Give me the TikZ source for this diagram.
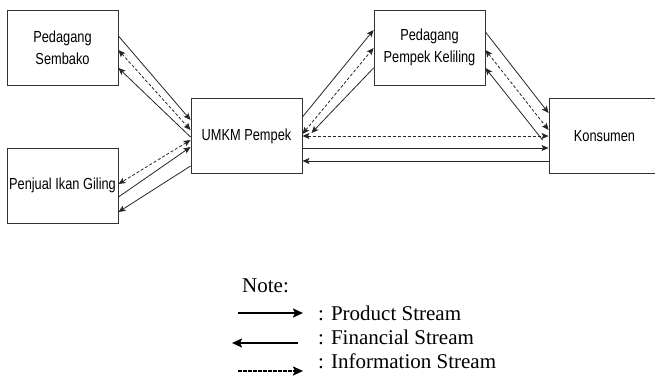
\documentclass[tikz,border=0pt]{standalone}
\usepackage{fontspec}
\setmainfont{Liberation Serif}
\newfontfamily\boxfont[FakeStretch=0.8]{Liberation Sans}
\usetikzlibrary{shapes,arrows.meta}
\usetikzlibrary{positioning}

\tikzset{
  actor/.style={rectangle,draw=black!80,line width=0.9pt,minimum width=111pt,minimum height=75pt,inner sep=0pt,align=center,font=\boxfont\fontsize{16}{22}\selectfont},
  flow/.style={-{Stealth[length=7pt,width=6pt,inset=1.5pt]},line width=0.8pt,black!85},
  info/.style={{Stealth[length=7pt,width=6pt,inset=1.5pt]}-{Stealth[length=7pt,width=6pt,inset=1.5pt]},line width=0.8pt,dash pattern=on 3pt off 2pt,black!85},
  keyflow/.style={-{Stealth[length=10pt,width=9pt,inset=2pt]},line width=1.8pt},
  legend/.style={anchor=west,inner sep=0pt,font=\fontsize{21}{24}\selectfont}
}

\begin{document}
\begin{tikzpicture}[x=1pt,y=1pt]
        \useasboundingbox (0,0) rectangle (655,-376);

        \node at (62.5,-47.5) [actor] (sembako) {Pedagang\\Sembako};
        \node at (62.5,-185.5) [actor] (ikan) {Penjual Ikan Giling};
        \node at (246.5,-136) [actor] (umkm) {UMKM Pempek};
        \node at (429.5,-47.5) [actor] (keliling) {Pedagang\\Pempek Keliling};
        \node at (604.5,-136) [actor] (konsumen) {Konsumen};

        % sembako - umkm
        \draw[flow] ([yshift=11.5pt]sembako.east) -- ([yshift=16pt]umkm.west);
        \draw[info] ([yshift=-2.5pt]sembako.east) -- ([yshift=6pt]umkm.west);
        \draw[flow] ([yshift=-1pt]umkm.west) -- ([yshift=-20.5pt]sembako.east);

        % ikan - umkm
        \draw[info] ([yshift=-4pt]umkm.west) -- ([yshift=1.5pt]ikan.east);
        \draw[flow] ([yshift=-11.5pt]ikan.east) -- ([yshift=-11pt]umkm.west);
        \draw[flow] ([yshift=-30pt]umkm.west) -- ([yshift=-26.5pt]ikan.east);

        % umkm - keliling
        \draw[flow] ([yshift=19pt]umkm.east) -- ([yshift=17.5pt]keliling.west);
        \draw[info] ([yshift=2pt]umkm.east) -- ([yshift=-0.5pt]keliling.west);
        \draw[flow] ([yshift=-20.5pt]keliling.west) -- ([xshift=9pt,yshift=3pt]umkm.east);

        % keliling - konsumen
        \draw[flow] ([yshift=15.5pt]keliling.east) -- ([yshift=23pt]konsumen.west);
        \draw[info] ([yshift=-2.5pt]keliling.east) -- ([yshift=6pt]konsumen.west);
        \draw[flow] ([xshift=-6pt,yshift=-4pt]konsumen.west) -- ([yshift=-20.5pt]keliling.east);

        % umkm - konsumen
        \draw[info] (umkm.east) -- (konsumen.west);
        \draw[flow] ([yshift=-12pt]umkm.east) -- ([yshift=-12pt]konsumen.west);
        \draw[flow] ([yshift=-25pt]konsumen.west) -- ([yshift=-25pt]umkm.east);

        % legend
        \node at (242,-286) [legend] (note) {Note:};
        \node at (318,-313) [legend] (prodtxt) {: Product Stream};
        \node at (318,-337) [legend] (fintxt) {: Financial Stream};
        \node at (318,-361) [legend] (infotxt) {: Information Stream};

        \coordinate (prodA) at (238,-313);
        \coordinate [left=15pt of prodtxt.west] (prodB);
        \coordinate (finA) at (232,-343);
        \coordinate (finB) at (298,-343);
        \coordinate (infoA) at (238,-371);
        \coordinate (infoB) at (303,-371);

        \draw[keyflow] (prodA) -- (prodB);
        \draw[keyflow] (finB) -- (finA);
        \draw[keyflow,dash pattern=on 3.5pt off 1.5pt] (infoA) -- (infoB);
    \end{tikzpicture}
\end{document}
